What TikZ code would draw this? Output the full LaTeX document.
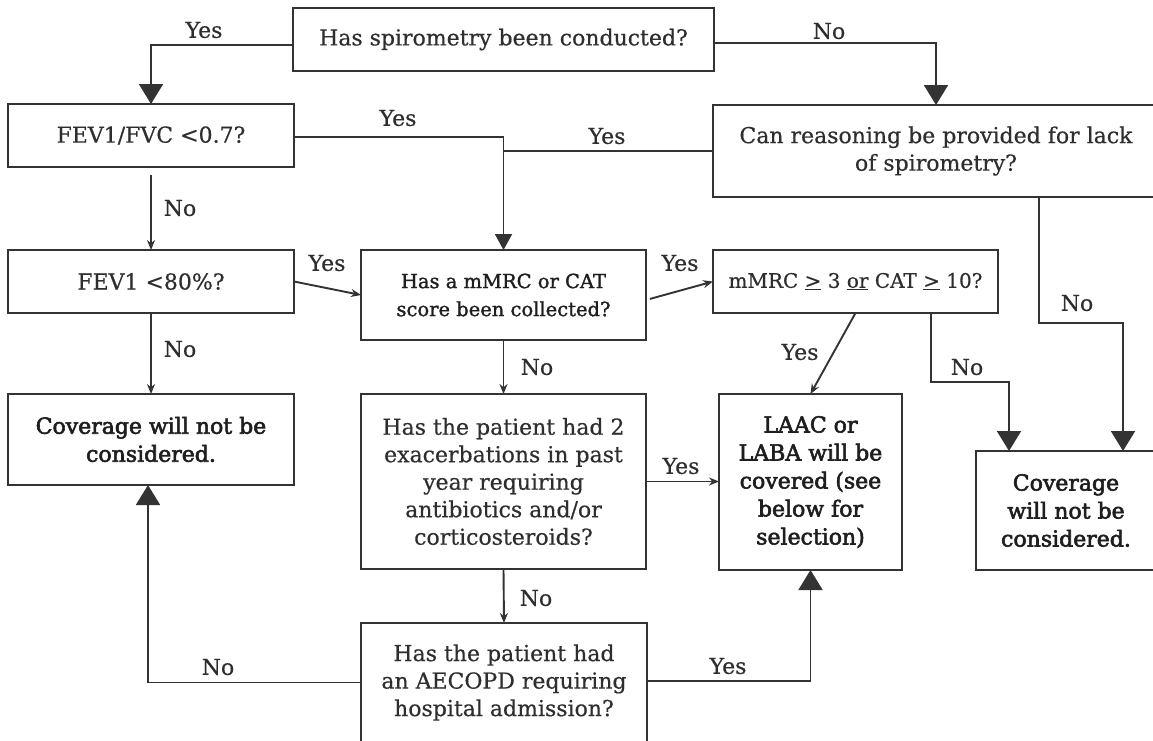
\documentclass[tikz,border=0pt]{standalone}
\usepackage{fontspec}
\setmainfont[FakeBold=0.5]{DejaVu Serif}
\newfontfamily\heavyfont[FakeBold=2.6]{DejaVu Serif}
\newfontfamily\midfont[FakeBold=1.4]{DejaVu Serif}
\usetikzlibrary{arrows.meta}
\definecolor{ink}{HTML}{2E2E2E}
\definecolor{inkdark}{HTML}{1E1E1E}
\definecolor{wire}{HTML}{333333}

\tikzset{
  box/.style={draw=wire, line width=2pt, rectangle, inner sep=0pt, outer sep=0pt,
    align=center, text=ink, font=\fontsize{22}{27.5}\selectfont},
  heavy/.style={font=\heavyfont\fontsize{22}{28}\selectfont, text=inkdark},
  semi/.style={font=\midfont\fontsize{19.5}{28}\selectfont, text=inkdark},
  lbl/.style={text=ink, font=\fontsize{22}{26}\selectfont, inner sep=0pt},
  link/.style={draw=wire, line width=1.9pt},
  tip/.style={link, -{Stealth[length=10pt,width=8pt]}},
  bigtip/.style={link, -{Triangle[length=20pt,width=24pt]}},
  midtip/.style={link, -{Triangle[length=16pt,width=17pt]}},
}

\begin{document}
\begin{tikzpicture}[x=1pt,y=-1pt]
\useasboundingbox (0,0) rectangle (1153,740);

% decision boxes
\node[box, minimum width=421pt, minimum height=63pt] (b1) at (503.5,39.5)
  {Has spirometry been conducted?};
\node[box, minimum width=286pt, minimum height=63pt] (b2) at (151,135.5)
  {FEV1/FVC <0.7?};
\node[box, minimum width=446pt, minimum height=92pt] (b3) at (936,151)
  {Can reasoning be provided for lack\\of spirometry?};
\node[box, minimum width=286pt, minimum height=63pt] (b4) at (151,281.5)
  {FEV1 <80\%?};
\node[box, semi, minimum width=285pt, minimum height=90pt] (b5) at (503.5,295)
  {Has a mMRC or CAT\\score been collected?};
\node[box, minimum width=285pt, minimum height=63pt, font=\fontsize{20}{26}\selectfont] (b8) at (855.5,281.5)
  {mMRC \underline{>} 3 \underline{or} CAT \underline{>} 10?};
\node[box, heavy, minimum width=286pt, minimum height=91pt] (b6) at (151,439.5)
  {Coverage will not be\\considered.};
\node[box, minimum width=285pt, minimum height=175pt] (b10) at (503.5,481.5)
  {Has the patient had 2\\exacerbations in past\\year requiring\\antibiotics and/or\\corticosteroids?};
\node[box, heavy, minimum width=183pt, minimum height=176pt] (b9) at (810.5,482)
  {LAAC or\\LABA will be\\covered (see\\below for\\selection)};
\node[box, heavy, minimum width=180pt, minimum height=119pt] (b7) at (1066,510.5)
  {Coverage\\will not be\\considered.};
\node[box, minimum width=286pt, minimum height=119pt] (b11) at (504,682.5)
  {Has the patient had\\an AECOPD requiring\\hospital admission?};

% connectors
\draw[bigtip] ([yshift=-5.5pt]b1.west) -| (b2.north);
\draw[bigtip] ([yshift=-3.5pt]b1.east) -| (b3.north);
\draw[midtip] ([yshift=-1.5pt]b2.east) -| (b5.north);
\draw[link] (b3.west) -- (b3.west -| b5.north);
\draw[tip, shorten <=8pt] (b2.south) -- (b4.north);
\draw[tip] (b4.east) -- (b5.west);
\draw[tip] (b4.south) -- (b6.north);
\draw[tip, shorten <=4pt] ([yshift=-5pt]b5.east) -- (b8.west);
\draw[tip] (b8.south) -- (b9.north);
\draw[bigtip] ([xshift=75.5pt]b8.south) -- ++(0,69) -| ([xshift=-57pt]b7.north);
\draw[bigtip] ([xshift=103pt]b3.south) -- ++(0,126) -| ([xshift=57pt]b7.north);
\draw[tip] (b5.south) -- (b10.north);
\draw[tip] (b10.east) -- (b10.east -| b9.west);
\draw[tip] (b10.south) -- (b11.north);
\draw[bigtip] (b11.west) -| ([xshift=-3pt]b6.south);
\draw[bigtip] ([yshift=1.5pt]b11.east) -| (b9.south);

% branch labels
\node[lbl] (l1) at (204,30) {Yes};
\node[lbl] (l2) at (829,31) {No};
\node[lbl] (l3) at (398,118) {Yes};
\node[lbl] (l4) at (607,136) {Yes};
\node[lbl] (l5) at (180,208) {No};
\node[lbl] (l6) at (327,263) {Yes};
\node[lbl] (l7) at (180,349) {No};
\node[lbl] (l8) at (680,263) {Yes};
\node[lbl] (l9) at (537,367) {No};
\node[lbl] (l10) at (800,352) {Yes};
\node[lbl] (l11) at (967,367) {No};
\node[lbl] (l12) at (1077,303) {No};
\node[lbl] (l13) at (681,466) {Yes};
\node[lbl] (l14) at (536,598) {No};
\node[lbl] (l15) at (218,667) {No};
\node[lbl] (l16) at (728,666) {Yes};
\end{tikzpicture}
\end{document}
